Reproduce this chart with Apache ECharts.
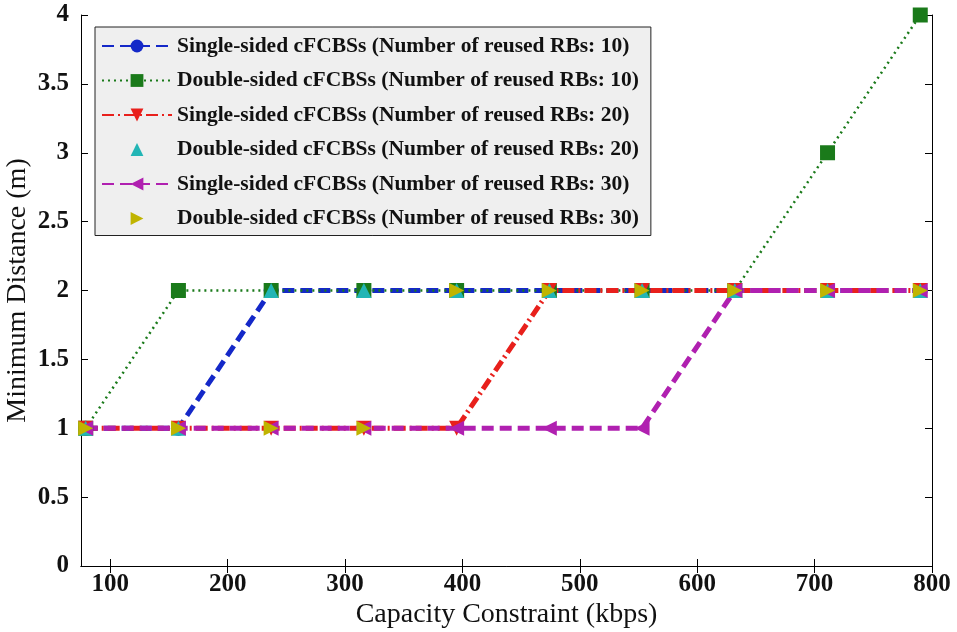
<!DOCTYPE html>
<html>
<head>
<meta charset="utf-8">
<script src="https://cdn.jsdelivr.net/npm/echarts@6/dist/echarts.min.js"></script>
<style>
  html, body { margin: 0; padding: 0; background: #fff; }
  #chart { width: 957px; height: 632px; }
</style>
</head>
<body>
<div id="chart"></div>
<script>
// Capacity constraint values (kbps) on the x axis
const capacity = [79, 158, 237, 316, 395, 474, 553, 632, 711, 790];
const xTicks = [100, 200, 300, 400, 500, 600, 700, 800];

// Minimum distance (m) for each configuration
const single10 = [1, 1, 2, 2, 2, 2, 2, 2, 2, 2];
const double10 = [1, 2, 2, 2, 2, 2, 2, 2, 3, 4];
const single20 = [1, 1, 1, 1, 1, 2, 2, 2, 2, 2];
const double20 = [1, 1, 2, 2, 2, 2, 2, 2, 2, 2];
const single30 = [1, 1, 1, 1, 1, 1, 1, 2, 2, 2];
const double30 = [1, 1, 1, 1, 2, 2, 2, 2, 2, 2];

const names = [
  'Single-sided cFCBSs (Number of reused RBs: 10)',
  'Double-sided cFCBSs (Number of reused RBs: 10)',
  'Single-sided cFCBSs (Number of reused RBs: 20)',
  'Double-sided cFCBSs (Number of reused RBs: 20)',
  'Single-sided cFCBSs (Number of reused RBs: 30)',
  'Double-sided cFCBSs (Number of reused RBs: 30)'
];

const serif = "'Liberation Serif', 'Times New Roman', serif";

function pairs(ys) {
  return capacity.map((x, i) => [x, ys[i]]);
}

function mkSeries(name, ys, color, symbol, rotate, lineStyle) {
  return {
    name: name,
    type: 'line',
    data: pairs(ys),
    symbol: symbol,
    symbolSize: 15,
    symbolRotate: rotate,
    itemStyle: { color: color },
    lineStyle: Object.assign({ color: color }, lineStyle),
    emphasis: { disabled: true },
    animation: false
  };
}

const chart = echarts.init(document.getElementById('chart'));

const axisCommon = {
  axisLine: { show: true, lineStyle: { color: '#000', width: 1 } },
  splitLine: { show: false }
};

chart.setOption({
  backgroundColor: '#fff',
  grid: { left: 81, right: 25, top: 15, bottom: 66, outerBoundsMode: 'none', containLabel: false },
  legend: {
    orient: 'vertical',
    left: 95,
    top: 27,
    backgroundColor: '#efefef',
    borderColor: '#222',
    borderWidth: 1,
    borderRadius: 0,
    padding: [8, 12, 6, 6],
    itemWidth: 70,
    itemHeight: 16,
    itemGap: 12.5,
    textStyle: { fontFamily: serif, fontSize: 21.5, fontWeight: 'bold', color: '#111' },
    data: names
  },
  xAxis: [
    Object.assign({}, axisCommon, {
      type: 'value', min: 75, max: 800,
      name: 'Capacity Constraint (kbps)',
      nameLocation: 'middle', nameGap: 35, nameMoveOverlap: false,
      nameTextStyle: { fontFamily: serif, fontSize: 28, color: '#111' },
      axisTick: { show: true, inside: true, length: 7, customValues: xTicks, lineStyle: { color: '#000' } },
      axisLabel: { customValues: xTicks, fontFamily: serif, fontSize: 25, fontWeight: 'bold', color: '#111', margin: 6 }
    }),
    Object.assign({}, axisCommon, {
      type: 'value', min: 75, max: 800, position: 'top',
      axisTick: { show: true, inside: true, length: 7, customValues: xTicks, lineStyle: { color: '#000' } },
      axisLabel: { show: false }
    })
  ],
  yAxis: [
    Object.assign({}, axisCommon, {
      type: 'value', min: 0, max: 4, interval: 0.5,
      name: 'Minimum Distance (m)',
      nameLocation: 'middle', nameGap: 49, nameMoveOverlap: false,
      nameTextStyle: { fontFamily: serif, fontSize: 28, color: '#111' },
      axisTick: { show: true, inside: true, length: 7, lineStyle: { color: '#000' } },
      axisLabel: { fontFamily: serif, fontSize: 25, fontWeight: 'bold', color: '#111', margin: 12 }
    }),
    Object.assign({}, axisCommon, {
      type: 'value', min: 0, max: 4, interval: 0.5, position: 'right',
      axisTick: { show: true, inside: true, length: 7, lineStyle: { color: '#000' } },
      axisLabel: { show: false }
    })
  ],
  series: [
    mkSeries(names[0], single10, '#1428c8', 'circle', 0, { width: 5, type: [12, 6] }),
    mkSeries(names[1], double10, '#1a7a1a', 'rect', 0, { width: 2.5, type: [2, 4] }),
    mkSeries(names[2], single20, '#e8201c', 'triangle', 180, { width: 5, type: [12, 4, 2, 4] }),
    mkSeries(names[3], double20, '#22b5b5', 'triangle', 0, { width: 0, opacity: 0 }),
    mkSeries(names[4], single30, '#b020b0', 'triangle', 90, { width: 5, type: [12, 6] }),
    mkSeries(names[5], double30, '#c0b400', 'triangle', -90, { width: 0, opacity: 0 })
  ]
});
</script>
</body>
</html>
